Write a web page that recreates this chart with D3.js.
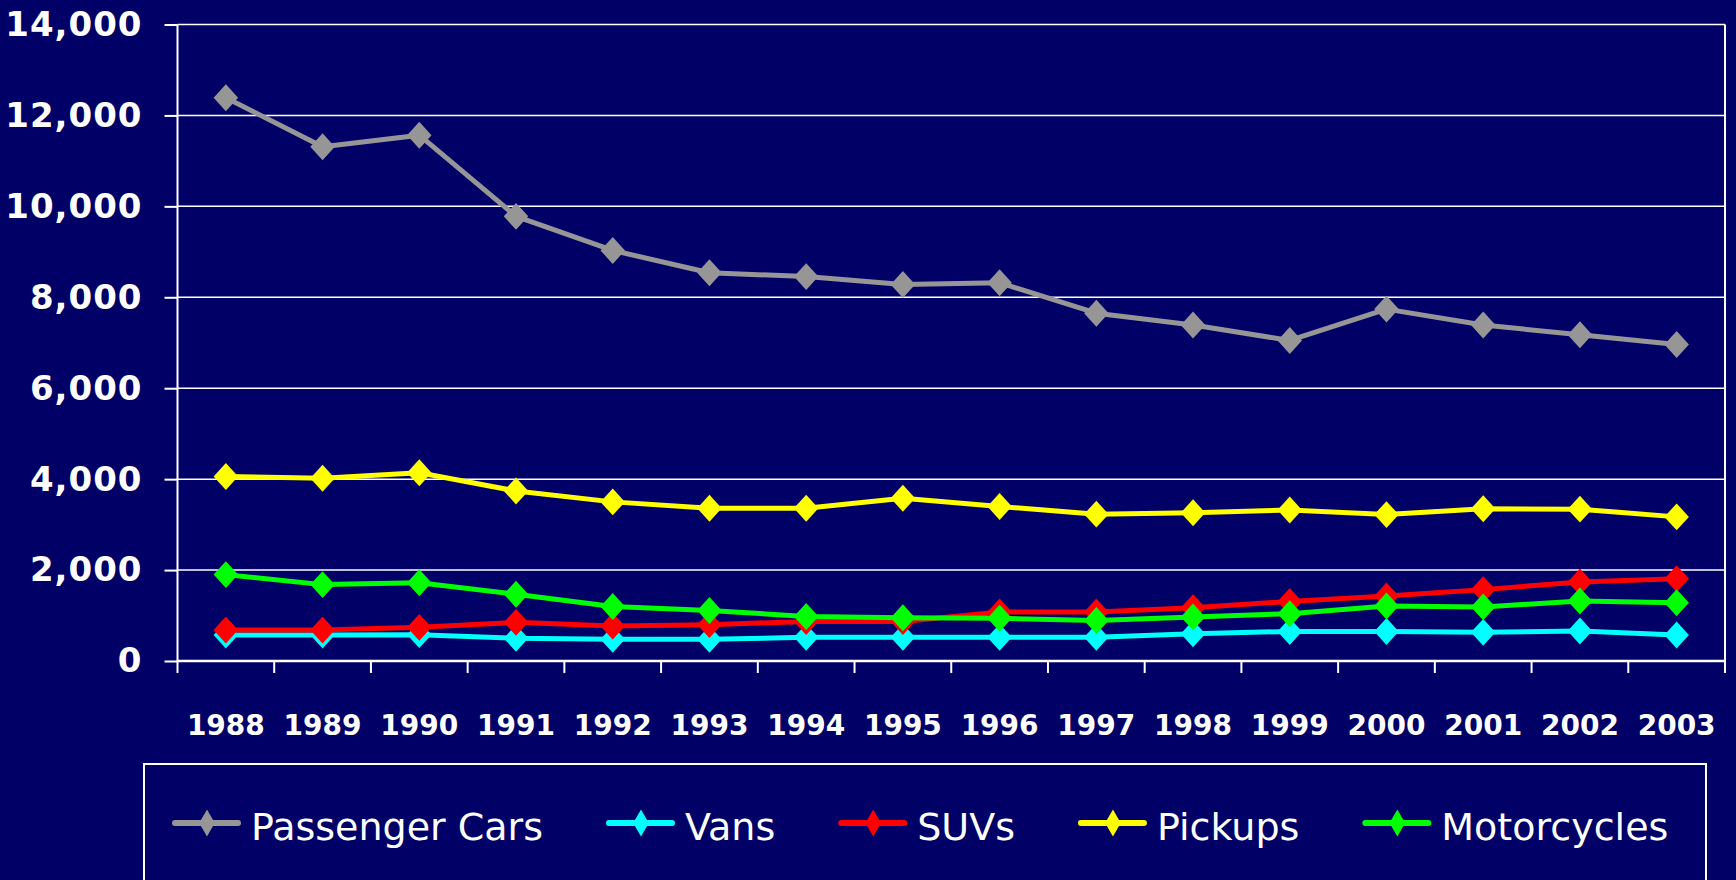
<!DOCTYPE html>
<html lang="en">
<head>
<meta charset="UTF-8">
<title>Deaths by vehicle type, 1988-2003</title>
<script src="https://d3js.org/d3.v7.min.js"></script>
<style>
  body { margin: 0; background: #000066; }
  svg { display: block; }
  text { font-family: "DejaVu Sans", Verdana, sans-serif; fill: #ffffff; }
</style>
</head>
<body>
<svg width="1736" height="880"></svg>
<script>
// categories
const years = ["1988", "1989", "1990", "1991", "1992", "1993", "1994", "1995",
               "1996", "1997", "1998", "1999", "2000", "2001", "2002", "2003"];

// series values
const passengerCars = [12390, 11310, 11565, 9780, 9030, 8540, 8455, 8280,
                       8320, 7650, 7390, 7050, 7740, 7390, 7175, 6960];
const vans        = [570, 570, 580, 500, 480, 480, 520, 520,
                     520, 520, 600, 650, 650, 630, 660, 570];
const suvs        = [680, 680, 740, 850, 770, 800, 870, 870,
                     1080, 1080, 1170, 1310, 1430, 1570, 1740, 1810];
const pickups     = [4060, 4020, 4140, 3740, 3500, 3360, 3360, 3580,
                     3400, 3230, 3260, 3320, 3220, 3350, 3340, 3170];
const motorcycles = [1900, 1680, 1720, 1470, 1200, 1110, 980, 950,
                     940, 890, 970, 1040, 1210, 1190, 1320, 1280];

// tick labels
const yTicks = [0, 2000, 4000, 6000, 8000, 10000, 12000, 14000];

const seriesNames = ["Passenger Cars", "Vans", "SUVs", "Pickups", "Motorcycles"];
const seriesData = [passengerCars, vans, suvs, pickups, motorcycles];
const seriesColors = ["#969696", "#00ffff", "#ff0000", "#ffff00", "#00ff00"];

const svg = d3.select("svg");
const margin = {top: 24.5, right: 11, bottom: 219, left: 177.5};
const width = 1736 - margin.left - margin.right;
const height = 880 - margin.top - margin.bottom;

const x = d3.scaleBand().domain(years).range([0, width]);
const y = d3.scaleLinear().domain([0, 14000]).range([height, 0]);

const g = svg.append("g")
    .attr("transform", "translate(" + margin.left + "," + margin.top + ")");

// gridlines
g.selectAll(".grid")
    .data(yTicks.filter(d => d > 0))
    .enter()
    .append("line")
    .attr("class", "grid")
    .attr("x1", 0)
    .attr("x2", width)
    .attr("y1", d => y(d))
    .attr("y2", d => y(d))
    .attr("stroke", "#ffffff")
    .attr("stroke-width", 1.5);

// y axis (ticks + labels)
const yAxis = g.append("g")
    .call(d3.axisLeft(y)
        .tickValues(yTicks)
        .tickSize(13)
        .tickPadding(22)
        .tickFormat(d3.format(",")));
yAxis.select(".domain").remove();
yAxis.selectAll(".tick line").attr("stroke", "#ffffff").attr("stroke-width", 2);
yAxis.selectAll(".tick text")
    .attr("fill", "#ffffff")
    .style("font-size", "34px")
    .style("font-weight", "bold")
    .style("letter-spacing", "1px");

// x axis line
g.append("line")
    .attr("x1", 0).attr("x2", width)
    .attr("y1", height).attr("y2", height)
    .attr("stroke", "#ffffff").attr("stroke-width", 2.5);

// left axis and right border
g.selectAll(".edge")
    .data([0, width])
    .enter()
    .append("line")
    .attr("class", "edge")
    .attr("x1", d => d).attr("x2", d => d)
    .attr("y1", 0).attr("y2", height + 12)
    .attr("stroke", "#ffffff").attr("stroke-width", 2);

// x ticks at category boundaries
g.selectAll(".xtick")
    .data(years.slice(1))
    .enter()
    .append("line")
    .attr("class", "xtick")
    .attr("x1", d => x(d)).attr("x2", d => x(d))
    .attr("y1", height).attr("y2", height + 12)
    .attr("stroke", "#ffffff").attr("stroke-width", 2);

// x labels
g.selectAll(".xlabel")
    .data(years)
    .enter()
    .append("text")
    .attr("class", "xlabel")
    .attr("x", d => x(d) + x.bandwidth() / 2)
    .attr("y", height + 74)
    .attr("text-anchor", "middle")
    .style("font-size", "28px")
    .style("font-weight", "bold")
    .text(d => d);

// series lines + markers
const line = d3.line()
    .x((d, i) => x(years[i]) + x.bandwidth() / 2)
    .y(d => y(d));

const diamond = d3.symbol().type(d3.symbolSquare).size(300);

seriesData.forEach(function (values, k) {
    const s = g.append("g").attr("class", "series");
    s.append("path")
        .datum(values)
        .attr("d", line)
        .attr("fill", "none")
        .attr("stroke", seriesColors[k])
        .attr("stroke-width", 5)
        .attr("stroke-linejoin", "round");
    s.selectAll(".marker")
        .data(values)
        .enter()
        .append("path")
        .attr("class", "marker")
        .attr("d", diamond)
        .attr("transform", (d, i) => "translate(" + (x(years[i]) + x.bandwidth() / 2) + "," + y(d) + ") scale(1,1.1) rotate(45)")
        .attr("fill", seriesColors[k]);
});

// legend
svg.append("rect")
    .attr("x", 144)
    .attr("y", 764)
    .attr("width", 1562)
    .attr("height", 150)
    .attr("fill", "none")
    .attr("stroke", "#ffffff")
    .attr("stroke-width", 2);

const legendDiamond = d3.symbol().type(d3.symbolDiamond).size(210);
let lx = 172;
seriesNames.forEach(function (name, k) {
    const item = svg.append("g").attr("transform", "translate(" + lx + ",823)");
    item.append("line")
        .attr("x1", 3).attr("x2", 66)
        .attr("y1", 0).attr("y2", 0)
        .attr("stroke", seriesColors[k])
        .attr("stroke-width", 6)
        .attr("stroke-linecap", "round");
    item.append("path")
        .attr("d", legendDiamond)
        .attr("transform", "translate(35,0)")
        .attr("fill", seriesColors[k]);
    const t = item.append("text")
        .attr("x", 79)
        .attr("y", 17)
        .style("font-size", "38px")
        .text(name);
    lx += 79 + t.node().getComputedTextLength() + 63;
});
</script>
</body>
</html>
